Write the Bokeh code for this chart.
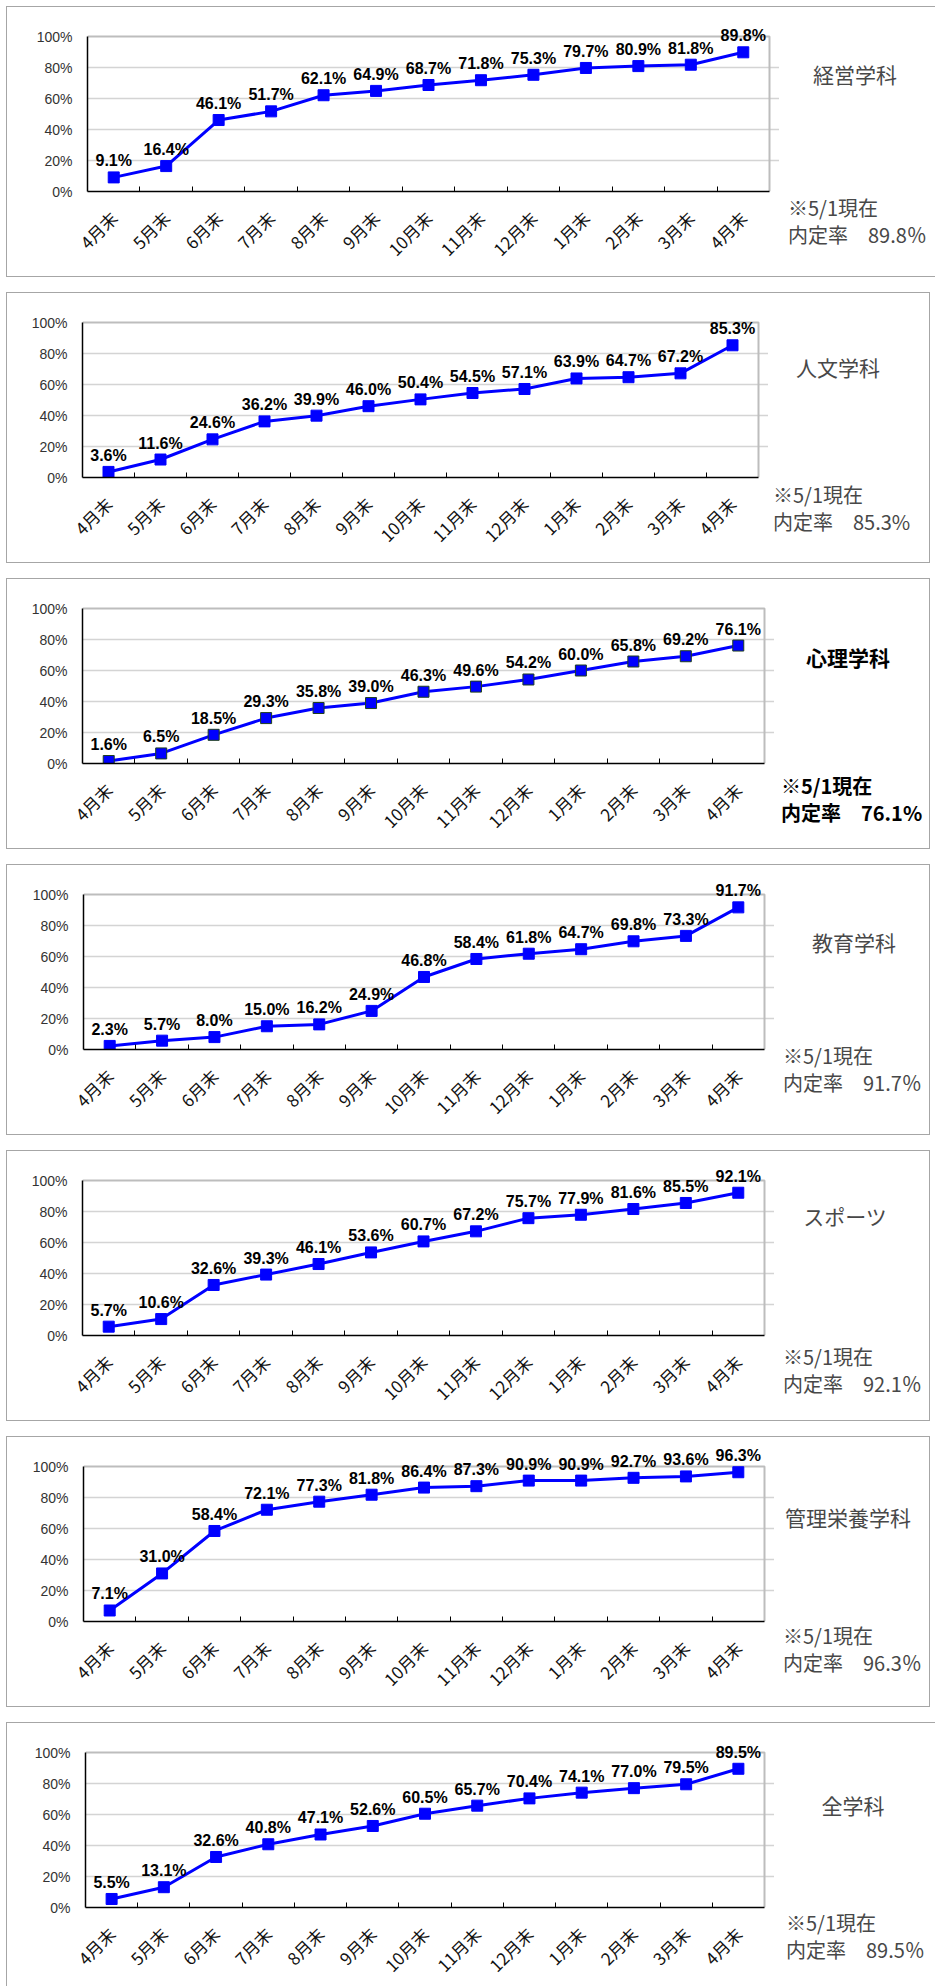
import math
from bokeh.plotting import figure
from bokeh.models import (ColumnDataSource, Range1d, FixedTicker, PrintfTickFormatter,
                          CustomJSTickFormatter, LabelSet, Div, Spacer)
from bokeh.layouts import column, row
from bokeh.embed import file_html
from bokeh.resources import INLINE
from bokeh.core.properties import value

# ---------------- data ----------------
months = ["4月末", "5月末", "6月末", "7月末", "8月末", "9月末", "10月末",
          "11月末", "12月末", "1月末", "2月末", "3月末", "4月末"]

keiei = [9.1, 16.4, 46.1, 51.7, 62.1, 64.9, 68.7, 71.8, 75.3, 79.7, 80.9, 81.8, 89.8]
jinbun = [3.6, 11.6, 24.6, 36.2, 39.9, 46.0, 50.4, 54.5, 57.1, 63.9, 64.7, 67.2, 85.3]
shinri = [1.6, 6.5, 18.5, 29.3, 35.8, 39.0, 46.3, 49.6, 54.2, 60.0, 65.8, 69.2, 76.1]
kyoiku = [2.3, 5.7, 8.0, 15.0, 16.2, 24.9, 46.8, 58.4, 61.8, 64.7, 69.8, 73.3, 91.7]
sports = [5.7, 10.6, 32.6, 39.3, 46.1, 53.6, 60.7, 67.2, 75.7, 77.9, 81.6, 85.5, 92.1]
kanri = [7.1, 31.0, 58.4, 72.1, 77.3, 81.8, 86.4, 87.3, 90.9, 90.9, 92.7, 93.6, 96.3]
zen = [5.5, 13.1, 32.6, 40.8, 47.1, 52.6, 60.5, 65.7, 70.4, 74.1, 77.0, 79.5, 89.5]

names = ["経営学科", "人文学科", "心理学科", "教育学科", "スポーツ", "管理栄養学科", "全学科"]
series = [keiei, jinbun, shinri, kyoiku, sports, kanri, zen]
note1 = "※5/1現在"
note2 = ["内定率　89.8％", "内定率　85.3%", "内定率　76.1%", "内定率　91.7％",
         "内定率　92.1％", "内定率　96.3％", "内定率　89.5％"]
bold = [False, False, True, False, False, False, False]
y_ticks = [0, 20, 40, 60, 80, 100]

# ---------------- layout (pixels, local to each panel box) ----------------
TOP_PAD, LEFT_PAD, GAP = 6, 6, 15
panel_w = [929, 924, 924, 924, 924, 924, 929]
panel_h = [271, 271, 271, 271, 271, 271, 263]
FT, FH = 30, 155           # plot-area top offset and height
PAD_R = 10                 # frame room to the right of the plot area
frame_left = [81, 76, 76, 77, 76, 77, 79]
frame_right = [763, 752, 758, 758, 758, 758, 758]
title_x = [849, 832, 842, 848, 839, 842, 847]
title_y = [68, 75, 79, 78, 66, 81, 83]
note_x = [782, 767, 775, 777, 777, 777, 780]
note_y = [202, 203, 208, 192, 207, 200, 201]
BOX = "#a6a6a6"
box_shadow = [
    f"inset 0 1px 0 0 {BOX}, inset 1px 0 0 0 {BOX}, inset 0 -1px 0 0 {BOX}",
    f"inset 0 0 0 1px {BOX}",
    f"inset 0 0 0 1px {BOX}",
    f"inset 0 0 0 1px {BOX}",
    f"inset 0 0 0 1px {BOX}",
    f"inset 0 0 0 1px {BOX}",
    f"inset 0 1px 0 0 {BOX}, inset 1px 0 0 0 {BOX}",
]

BLUE = "#0000ff"


def make_chart(i):
    h = panel_h[i]
    fl, fr = frame_left[i], frame_right[i]
    fw = fr - fl
    n = len(months)
    x_end = n * (fw + PAD_R) / fw
    y_end = 100.0 * (FT + FH) / FH

    p = figure(frame_width=fw + PAD_R, frame_height=FT + FH, output_backend="svg",
               toolbar_location=None,
               x_range=Range1d(0, x_end), y_range=Range1d(0, y_end),
               min_border_left=fl, min_border_right=0, min_border_top=0,
               min_border_bottom=h - FT - FH,
               background_fill_color=None, border_fill_color=None,
               outline_line_color=None)

    centers = [k + 0.5 for k in range(n)]
    vals = series[i]
    src = ColumnDataSource(dict(x=centers, y=vals, label=[f"{v:.1f}%" for v in vals]))

    # x axis
    p.xaxis.bounds = (0, n)
    p.xaxis.ticker = FixedTicker(ticks=centers, minor_ticks=list(range(1, n)))
    p.xaxis.formatter = CustomJSTickFormatter(args=dict(labels=months),
                                              code="return labels[Math.round(tick - 0.5)];")
    p.xaxis.major_label_orientation = math.pi / 4
    p.xaxis.major_tick_in = 0
    p.xaxis.major_tick_out = 0
    p.xaxis.minor_tick_in = 5
    p.xaxis.minor_tick_out = 0
    p.xaxis.minor_tick_line_color = "black"
    p.xaxis.axis_line_color = "black"
    p.xaxis.axis_line_width = 1.5
    p.xaxis.major_label_standoff = 23
    p.xaxis.major_label_text_font = "Noto Sans CJK JP"
    p.xaxis.major_label_text_font_size = "17px"
    p.xaxis.major_label_text_color = "#111111"

    # y axis
    p.yaxis.bounds = (0, 100)
    p.yaxis.ticker = FixedTicker(ticks=y_ticks)
    p.yaxis.formatter = PrintfTickFormatter(format="%d%%")
    p.yaxis.major_tick_in = 0
    p.yaxis.major_tick_out = 0
    p.yaxis.minor_tick_line_color = None
    p.yaxis.axis_line_color = "black"
    p.yaxis.axis_line_width = 1.5
    p.yaxis.major_label_standoff = 15
    p.yaxis.major_label_text_font = "Liberation Sans"
    p.yaxis.major_label_text_font_size = "14px"
    p.yaxis.major_label_text_color = "#333333"

    # grid and plot-area border (top/right)
    p.xgrid.visible = False
    p.ygrid.ticker = FixedTicker(ticks=y_ticks[1:-1])
    p.ygrid.bounds = (0, n)
    p.ygrid.grid_line_color = "#d4d4d4"
    p.ygrid.grid_line_width = 1.5
    p.line(x=[0, n, n], y=[y_ticks[-1], y_ticks[-1], 0], line_color="#bdbdbd", line_width=2)

    # series
    p.line("x", "y", source=src, line_color=BLUE, line_width=3)
    p.scatter("x", "y", source=src, marker="square", size=11, fill_color=BLUE,
              line_color="#1f3f1f" if bold[i] else BLUE, line_width=1)
    p.add_layout(LabelSet(x="x", y="y", text="label", source=src, y_offset=11,
                          text_align="center", text_baseline="alphabetic",
                          text_font=value("Liberation Sans"), text_font_style="bold",
                          text_font_size="16px", text_color="black"))
    return p, fl + fw + PAD_R


def make_side(i, x0):
    w = panel_w[i] - x0
    h = panel_h[i]
    color = "#000000" if bold[i] else "#484848"
    weight = "bold" if bold[i] else "normal"
    base = ("position:absolute;white-space:nowrap;line-height:1;"
            f"font-family:'Noto Sans CJK JP',sans-serif;color:{color};font-weight:{weight};")
    html = (
        f'<div style="position:relative;width:{w}px;height:{h}px;">'
        f'<div style="{base}left:{title_x[i] - x0}px;top:{title_y[i]}px;'
        f'transform:translate(-50%,-50%);font-size:21px;">{names[i]}</div>'
        f'<div style="{base}left:{note_x[i] - x0}px;top:{note_y[i]}px;'
        f'transform:translateY(-50%);font-size:20px;">{note1}</div>'
        f'<div style="{base}left:{note_x[i] - x0}px;top:{note_y[i] + 27}px;'
        f'transform:translateY(-50%);font-size:20px;">{note2[i]}</div>'
        '</div>'
    )
    return Div(text=html, width=w, height=h, margin=0)


items = [Spacer(height=TOP_PAD, margin=0)]
for i in range(len(names)):
    chart, cw = make_chart(i)
    side = make_side(i, cw)
    panel = row(chart, side, spacing=0,
                styles={"box-shadow": box_shadow[i], "background-color": "white"})
    items.append(row(Spacer(width=LEFT_PAD, margin=0), panel, spacing=0))
    if i < len(names) - 1:
        items.append(Spacer(height=GAP, margin=0))

layout = column(*items, spacing=0)

open("out.html", "w").write(file_html(layout, INLINE))
